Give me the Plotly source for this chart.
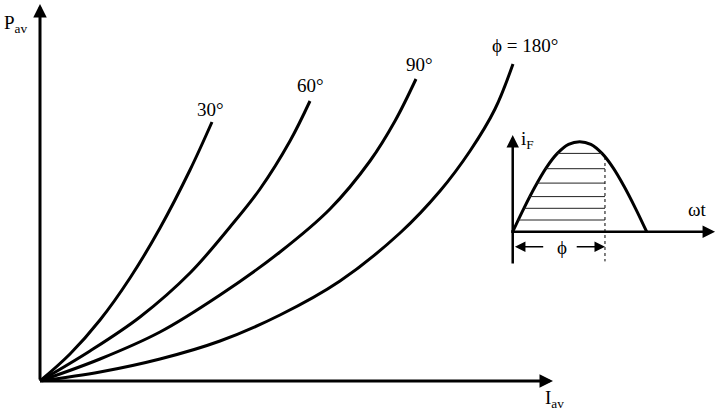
import plotly.graph_objects as go

# ---- main chart data (I_av, P_av in arbitrary drawing units) ----
i30 = [0, 30, 60, 90, 120, 150, 172]
p30 = [0, 27, 61, 103, 153, 211, 259]
i60 = [0, 50, 100, 150, 190, 220, 250, 270]
p60 = [0, 30, 64, 108, 154, 192, 240, 280]
i90 = [0, 60, 120, 180, 240, 290, 330, 355, 376]
p90 = [0, 22, 49, 86, 129, 172, 220, 260, 302]
i180 = [0, 60, 120, 180, 240, 300, 360, 400, 430, 455, 473]
p180 = [0, 9, 22, 40, 66, 100, 148, 190, 230, 272, 317]
curve_labels = ["30°", "60°", "90°", "ϕ = 180°"]

# ---- inset data (ωt in degrees, iF normalised) ----
wt = [0, 15, 30, 45, 60, 75, 90, 105, 120, 135, 150, 165, 180]
iF = [0, 0.26, 0.5, 0.71, 0.87, 0.97, 1.0, 0.97, 0.87, 0.71, 0.5, 0.26, 0]
phi = 124
hatch_levels = [0.87, 0.70, 0.54, 0.39, 0.26, 0.13]
hatch_left = [59, 44, 32, 22, 15, 7]
hatch_right = [120, 124, 124, 124, 124, 124]

FONT = "Liberation Serif"
fig = go.Figure()

line = dict(color="black", width=3, shape="spline", smoothing=1)
for xs, ys in [(i30, p30), (i60, p60), (i90, p90), (i180, p180)]:
    fig.add_trace(go.Scatter(x=xs, y=ys, mode="lines", line=line,
                             hoverinfo="skip", showlegend=False))

# inset curve
fig.add_trace(go.Scatter(x=wt, y=iF, mode="lines", xaxis="x2", yaxis="y2",
                         line=dict(color="black", width=3, shape="spline"),
                         hoverinfo="skip", showlegend=False))
# hatching
hx, hy = [], []
for lv, l, r in zip(hatch_levels, hatch_left, hatch_right):
    hx += [l, r, None]
    hy += [lv, lv, None]
fig.add_trace(go.Scatter(x=hx, y=hy, mode="lines", xaxis="x2", yaxis="y2",
                         line=dict(color="#222222", width=1),
                         hoverinfo="skip", showlegend=False))
# dashed phi line
fig.add_trace(go.Scatter(x=[phi, phi], y=[0.83, -0.33], mode="lines",
                         xaxis="x2", yaxis="y2",
                         line=dict(color="black", width=1, dash="3px,3px"),
                         hoverinfo="skip", showlegend=False))

ann = []
# main axes arrows
ann.append(dict(x=0, y=377, ax=0, ay=0, xref="x", yref="y", axref="x", ayref="y",
                showarrow=True, arrowhead=2, arrowsize=0.9, arrowwidth=3,
                arrowcolor="black", text=""))
ann.append(dict(x=513, y=0, ax=0, ay=0, xref="x", yref="y", axref="x", ayref="y",
                showarrow=True, arrowhead=2, arrowsize=0.9, arrowwidth=3,
                arrowcolor="black", text=""))
# inset axes arrows
ann.append(dict(x=0, y=1.074, ax=0, ay=-0.37, xref="x2", yref="y2", axref="x2", ayref="y2",
                showarrow=True, arrowhead=2, arrowsize=1, arrowwidth=2.5,
                arrowcolor="black", text=""))
ann.append(dict(x=272, y=0, ax=-4, ay=0, xref="x2", yref="y2", axref="x2", ayref="y2",
                showarrow=True, arrowhead=2, arrowsize=1, arrowwidth=2.5,
                arrowcolor="black", text=""))
# phi dimension arrows
ann.append(dict(x=3, y=-0.167, ax=43, ay=-0.167, xref="x2", yref="y2", axref="x2", ayref="y2",
                showarrow=True, arrowhead=2, arrowsize=1.4, arrowwidth=1.5,
                arrowcolor="black", text=""))
ann.append(dict(x=phi, y=-0.167, ax=84, ay=-0.167, xref="x2", yref="y2", axref="x2", ayref="y2",
                showarrow=True, arrowhead=2, arrowsize=1.4, arrowwidth=1.5,
                arrowcolor="black", text=""))

tf = dict(family=FONT, size=19, color="black")
# curve labels
ann.append(dict(x=170, y=272, text=curve_labels[0], showarrow=False, font=tf, xref="x", yref="y"))
ann.append(dict(x=270, y=296, text=curve_labels[1], showarrow=False, font=tf, xref="x", yref="y"))
ann.append(dict(x=379, y=317, text=curve_labels[2], showarrow=False, font=tf, xref="x", yref="y"))
ann.append(dict(x=450, y=336, text=curve_labels[3], showarrow=False, font=tf,
                xanchor="left", xref="x", yref="y"))
# axis labels
ann.append(dict(x=-38, y=357, text="P<sub>av</sub>", showarrow=False, font=tf,
                xanchor="left", xref="x", yref="y"))
ann.append(dict(x=503, y=-18, text="I<sub>av</sub>", showarrow=False, font=tf,
                xanchor="left", xref="x", yref="y"))
# inset labels
ann.append(dict(x=9, y=1.02, text="i<sub>F</sub>", showarrow=False, font=tf,
                xanchor="left", xref="x2", yref="y2"))
ann.append(dict(x=249, y=0.25, text="ωt", showarrow=False, font=tf,
                xref="x2", yref="y2"))
ann.append(dict(x=66.8, y=-0.18, text="ϕ", showarrow=False, font=tf,
                xref="x2", yref="y2"))

hidden = dict(visible=False, showgrid=False, zeroline=False, fixedrange=True)
fig.update_layout(
    width=720, height=412,
    margin=dict(l=0, r=0, t=0, b=0, pad=0, autoexpand=False),
    paper_bgcolor="white", plot_bgcolor="rgba(0,0,0,0)",
    xaxis=dict(range=[-40, 680], domain=[0, 1], **hidden),
    yaxis=dict(range=[-31, 381], domain=[0, 1], **hidden),
    xaxis2=dict(range=[-17.1, 278.6], domain=[500 / 720, 1], anchor="y2", **hidden),
    yaxis2=dict(range=[-0.4256, 1.1856], domain=[(412 - 270) / 412, (412 - 125) / 412],
                anchor="x2", **hidden),
    annotations=ann,
    showlegend=False,
)

fig.write_html("out.html", config={"displayModeBar": False},
               post_script="document.body.style.margin='0';document.body.style.overflow='hidden';")
